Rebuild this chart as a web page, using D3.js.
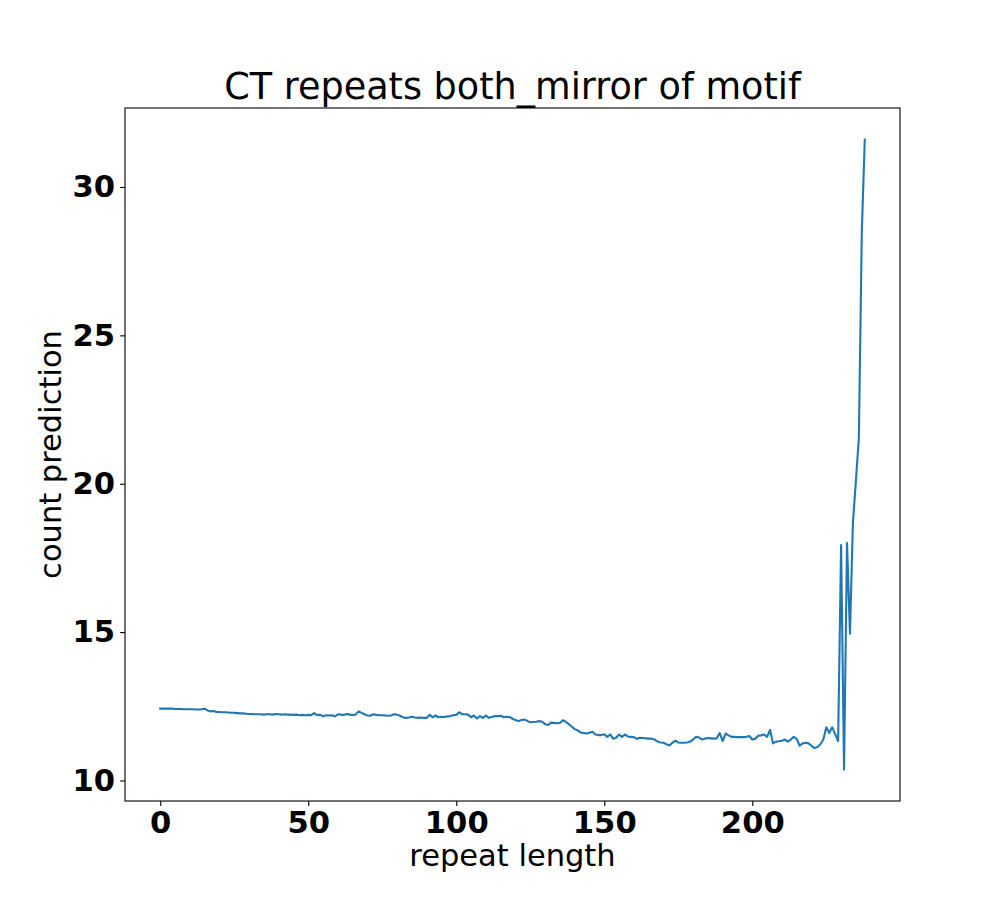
<!DOCTYPE html>
<html>
<head>
<meta charset="utf-8">
<script src="https://cdn.jsdelivr.net/npm/d3@7"></script>
<style>
    body { margin: 0; background: #fff; }
    svg text { font-family: "DejaVu Sans", sans-serif; fill: #000; }
</style>
</head>
<body>
<div id="chart"></div>
<script>
// chart text
var title = "CT repeats both_mirror of motif";
var xLabel = "repeat length";
var yLabel = "count prediction";

// tick values
var xTicks = [0, 50, 100, 150, 200];
var yTicks = [10, 15, 20, 25, 30];

// count prediction for repeat length 0..238
var counts = [
    12.42, 12.42, 12.42, 12.42, 12.42, 12.41, 12.41, 12.41, 12.40, 12.40,
    12.40, 12.40, 12.39, 12.39, 12.40, 12.42, 12.36, 12.33, 12.34, 12.31,
    12.31, 12.30, 12.30, 12.29, 12.28, 12.28, 12.27, 12.26, 12.26, 12.25,
    12.24, 12.24, 12.23, 12.23, 12.23, 12.22, 12.23, 12.23, 12.22, 12.24,
    12.23, 12.22, 12.23, 12.22, 12.22, 12.21, 12.22, 12.20, 12.21, 12.20,
    12.21, 12.20, 12.27, 12.20, 12.22, 12.16, 12.20, 12.19, 12.20, 12.16,
    12.23, 12.22, 12.21, 12.24, 12.22, 12.21, 12.22, 12.33, 12.28, 12.23,
    12.19, 12.18, 12.23, 12.21, 12.20, 12.20, 12.19, 12.18, 12.19, 12.23,
    12.22, 12.18, 12.13, 12.11, 12.12, 12.15, 12.12, 12.11, 12.12, 12.11,
    12.11, 12.21, 12.13, 12.19, 12.13, 12.15, 12.14, 12.16, 12.17, 12.20,
    12.21, 12.30, 12.23, 12.23, 12.22, 12.13, 12.19, 12.09, 12.17, 12.11,
    12.19, 12.11, 12.14, 12.17, 12.17, 12.18, 12.13, 12.15, 12.14, 12.08,
    12.04, 12.00, 12.04, 12.05, 12.01, 11.96, 11.97, 11.98, 12.00, 11.98,
    11.90, 11.87, 11.95, 11.94, 11.93, 11.94, 12.03, 11.98, 11.90, 11.82,
    11.73, 11.69, 11.62, 11.60, 11.58, 11.61, 11.64, 11.55, 11.53, 11.53,
    11.56, 11.47, 11.55, 11.41, 11.44, 11.55, 11.47, 11.55, 11.48, 11.47,
    11.46, 11.40, 11.44, 11.43, 11.42, 11.41, 11.41, 11.38, 11.31, 11.28,
    11.27, 11.22, 11.18, 11.27, 11.34, 11.28, 11.27, 11.27, 11.28, 11.31,
    11.38, 11.47, 11.45, 11.38, 11.41, 11.43, 11.42, 11.41, 11.42, 11.60,
    11.33, 11.58, 11.52, 11.47, 11.47, 11.46, 11.46, 11.46, 11.47, 11.50,
    11.38, 11.41, 11.51, 11.52, 11.55, 11.47, 11.70, 11.25, 11.31, 11.32,
    11.34, 11.38, 11.31, 11.38, 11.47, 11.40, 11.17, 11.25, 11.27, 11.25,
    11.17, 11.09, 11.13, 11.22, 11.38, 11.79, 11.60, 11.79, 11.56, 11.33,
    17.93, 10.37, 18.00, 14.95, 18.70, 20.10, 21.55, 28.50, 31.60
];

var data = counts.map(function (v, i) {
    return { len: i, count: v };
});

var width = 1000,
    height = 900;
var margin = { top: 108, right: 100, bottom: 99, left: 125 };
var plotW = width - margin.left - margin.right,
    plotH = height - margin.top - margin.bottom;

var svg = d3.select("#chart")
    .append("svg")
    .attr("width", width)
    .attr("height", height);

// matplotlib style 5% padding on both axes
var xExt = d3.extent(data, function (d) { return d.len; });
var yExt = d3.extent(data, function (d) { return d.count; });
var xPad = (xExt[1] - xExt[0]) * 0.05,
    yPad = (yExt[1] - yExt[0]) * 0.05;

var x = d3.scaleLinear()
    .domain([xExt[0] - xPad, xExt[1] + xPad])
    .range([margin.left, margin.left + plotW]);
var y = d3.scaleLinear()
    .domain([yExt[0] - yPad, yExt[1] + yPad])
    .range([margin.top + plotH, margin.top]);

var line = d3.line()
    .x(function (d) { return x(d.len); })
    .y(function (d) { return y(d.count); });

svg.append("path")
    .datum(data)
    .attr("fill", "none")
    .attr("stroke", "#1f77b4")
    .attr("stroke-width", 2.1)
    .attr("stroke-linejoin", "round")
    .attr("stroke-linecap", "square")
    .attr("d", line);

// axes
var xAxis = svg.append("g")
    .attr("transform", "translate(0," + (margin.top + plotH) + ")")
    .call(d3.axisBottom(x).tickValues(xTicks).tickSize(4.9).tickPadding(5).tickFormat(d3.format("d")));
var yAxis = svg.append("g")
    .attr("transform", "translate(" + margin.left + ",0)")
    .call(d3.axisLeft(y).tickValues(yTicks).tickSize(4.9).tickPadding(5).tickFormat(d3.format("d")));

[xAxis, yAxis].forEach(function (g) {
    g.select(".domain").remove();
    g.selectAll(".tick line").attr("stroke", "#000").attr("stroke-width", 1.1);
    g.selectAll(".tick text")
        .style("font-family", "'DejaVu Sans', sans-serif")
        .style("font-weight", "bold")
        .style("font-size", "30.6px");
});

// frame
svg.append("rect")
    .attr("x", margin.left)
    .attr("y", margin.top)
    .attr("width", plotW)
    .attr("height", plotH)
    .attr("fill", "none")
    .attr("stroke", "#000")
    .attr("stroke-width", 1.1);

svg.append("text")
    .attr("x", margin.left + plotW / 2)
    .attr("y", 99)
    .attr("text-anchor", "middle")
    .style("font-size", "36.6px")
    .text(title);

svg.append("text")
    .attr("x", margin.left + plotW / 2)
    .attr("y", 866)
    .attr("text-anchor", "middle")
    .style("font-size", "30.5px")
    .text(xLabel);

svg.append("text")
    .attr("transform", "translate(61," + (margin.top + plotH / 2) + ") rotate(-90)")
    .attr("text-anchor", "middle")
    .style("font-size", "30.5px")
    .text(yLabel);
</script>
</body>
</html>
